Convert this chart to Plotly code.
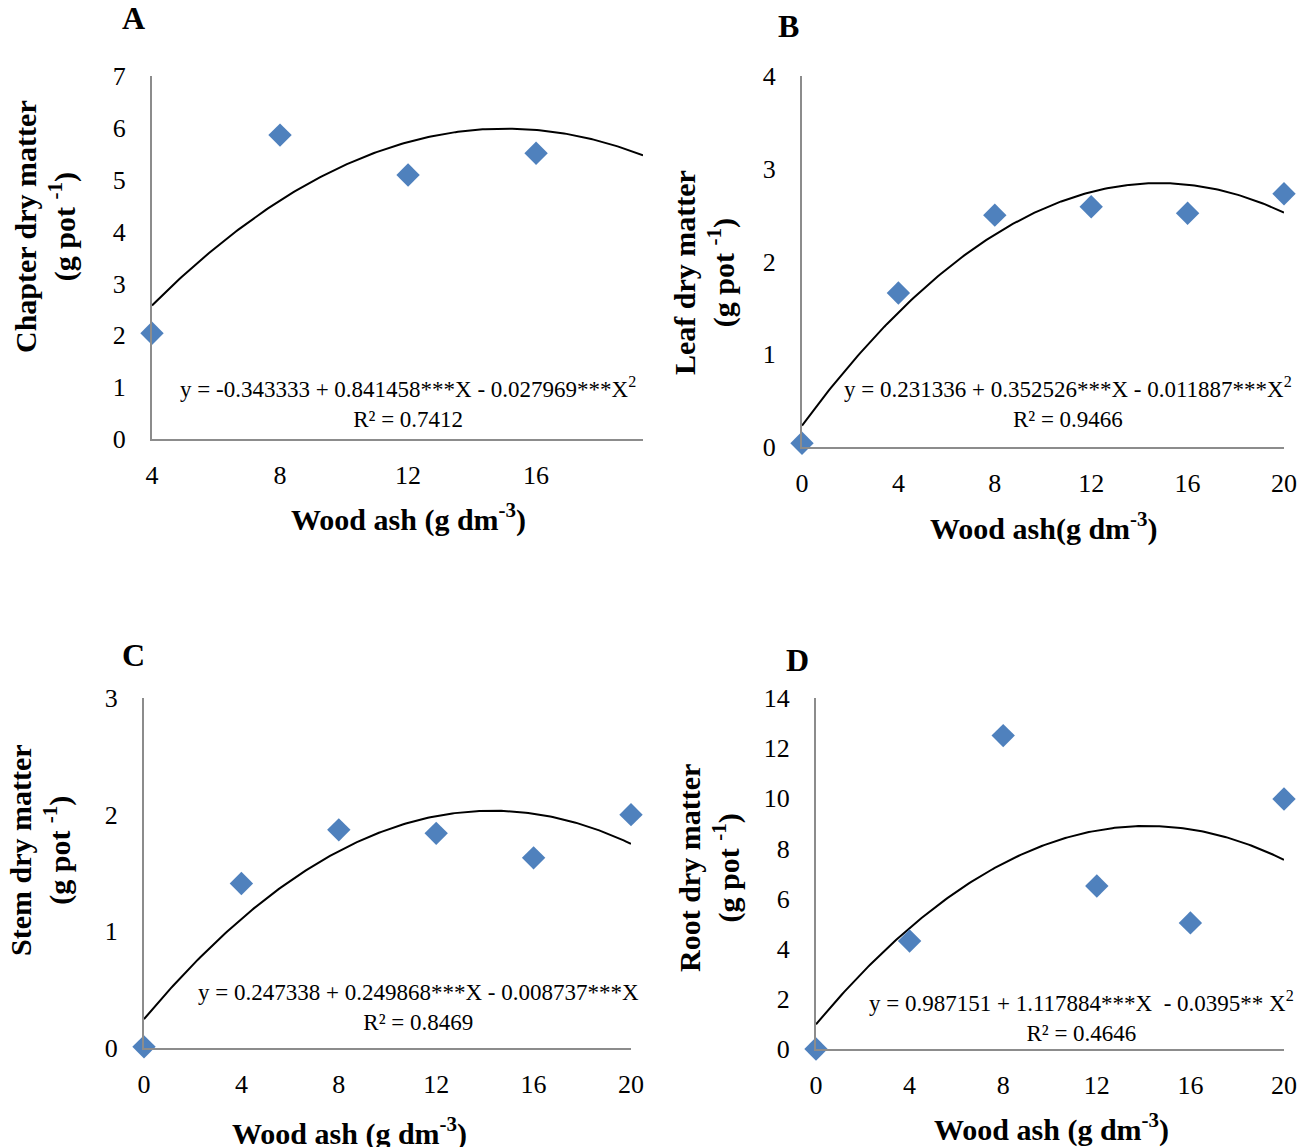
import numpy as np
import plotly.graph_objects as go

W, H = 1314, 1147
OFF = 8  # page body margin of the browser

# ---------------- data ----------------
x_A = [4, 8, 12, 16]
y_A = [2.04, 5.86, 5.09, 5.51]
coef_A = [-0.343333, 0.841458, -0.027969]

x_B = [0, 4, 8, 12, 16, 20]
y_B = [0.04, 1.66, 2.50, 2.59, 2.52, 2.73]
coef_B = [0.231336, 0.352526, -0.011887]

x_C = [0, 4, 8, 12, 16, 20]
y_C = [0.01, 1.41, 1.87, 1.84, 1.63, 2.00]
coef_C = [0.247338, 0.249868, -0.008737]

x_D = [0, 4, 8, 12, 16, 20]
y_D = [0.0, 4.31, 12.5, 6.5, 5.03, 9.97]
coef_D = [0.987151, 1.117884, -0.0395]

ticks_A = [4, 8, 12, 16]
ticks_BCD = [0, 4, 8, 12, 16, 20]

eq_A = "y = -0.343333 + 0.841458***X - 0.027969***X<sup>2</sup><br>R² = 0.7412"
eq_B = "y = 0.231336 + 0.352526***X - 0.011887***X<sup>2</sup><br>R² = 0.9466"
eq_C = "y = 0.247338 + 0.249868***X - 0.008737***X<br>R² = 0.8469"
eq_D = "y = 0.987151 + 1.117884***X  - 0.0395** X<sup>2</sup><br>R² = 0.4646"

ytitle_A = "Chapter dry matter<br>(g pot <sup>-1</sup>)"
ytitle_B = "Leaf dry matter<br>(g pot <sup>-1</sup>)"
ytitle_C = "Stem dry matter<br>(g pot <sup>-1</sup>)"
ytitle_D = "Root dry matter<br>(g pot <sup>-1</sup>)"
xtitle_A = "Wood ash (g dm<sup>-3</sup>)"
xtitle_B = "Wood ash(g dm<sup>-3</sup>)"
xtitle_C = "Wood ash (g dm<sup>-3</sup>)"
xtitle_D = "Wood ash (g dm<sup>-3</sup>)"

FONT = "Liberation Serif, Times New Roman, serif"
BLUE = "#4F81BD"
AXC = "#8C8C8C"

def px(x):
    return (x - OFF) / W

def py(y):
    return (H - (y - OFF)) / H

panels = [
    dict(x=x_A, y=y_A, c=coef_A, xr=[4, 19.34], yr=[0, 7], dt=1, xt=ticks_A,
         box=(152, 643, 76, 439), eq=eq_A, eqpos=(408, 403), letter="A", lpos=(133, 18),
         yt=ytitle_A, ytpos=(45, 227), xtt=xtitle_A, xtpos=(408, 517)),
    dict(x=x_B, y=y_B, c=coef_B, xr=[0, 20], yr=[0, 4], dt=1, xt=ticks_BCD,
         box=(802, 1284, 76, 447), eq=eq_B, eqpos=(1068, 403), letter="B", lpos=(788, 26),
         yt=ytitle_B, ytpos=(704, 273), xtt=xtitle_B, xtpos=(1044, 526)),
    dict(x=x_C, y=y_C, c=coef_C, xr=[0, 20], yr=[0, 3], dt=1, xt=ticks_BCD,
         box=(144, 631, 698, 1048), eq=eq_C, eqpos=(418, 1007), letter="C", lpos=(133, 655),
         yt=ytitle_C, ytpos=(40, 850), xtt=xtitle_C, xtpos=(349, 1131)),
    dict(x=x_D, y=y_D, c=coef_D, xr=[0, 20], yr=[0, 14], dt=2, xt=ticks_BCD,
         box=(816, 1284, 698, 1049), eq=eq_D, eqpos=(1081, 1016), letter="D", lpos=(797, 660),
         yt=ytitle_D, ytpos=(710, 868), xtt=xtitle_D, xtpos=(1051, 1127)),
]

fig = go.Figure()
annotations = []
layout = {}

for i, p in enumerate(panels, start=1):
    sfx = "" if i == 1 else str(i)
    xa, ya = "x" + sfx, "y" + sfx
    l, r, t, b = p["box"]
    xs = np.linspace(p["xr"][0], p["xr"][1], 200)
    c0, c1, c2 = p["c"]
    ys = c0 + c1 * xs + c2 * xs ** 2
    fig.add_trace(go.Scatter(x=xs, y=ys, mode="lines", line=dict(color="black", width=2),
                             xaxis=xa, yaxis=ya, showlegend=False, hoverinfo="skip",
                             cliponaxis=False))
    fig.add_trace(go.Scatter(x=p["x"], y=p["y"], mode="markers",
                             marker=dict(symbol="diamond", size=18, color=BLUE),
                             xaxis=xa, yaxis=ya, showlegend=False, cliponaxis=False))
    layout["xaxis" + sfx] = dict(
        domain=[px(l), px(r)], range=p["xr"], anchor=ya, tickvals=p["xt"],
        showgrid=False, zeroline=False, showline=True, linecolor=AXC, linewidth=2,
        ticks="", ticklabelstandoff=12, automargin=False,
        tickfont=dict(family=FONT, size=26, color="black"),
    )
    layout["yaxis" + sfx] = dict(
        domain=[py(b), py(t)], range=p["yr"], anchor=xa, dtick=p["dt"],
        showgrid=False, zeroline=False, showline=True, linecolor=AXC, linewidth=2,
        ticks="", ticklabelstandoff=19, automargin=False,
        tickfont=dict(family=FONT, size=26, color="black"),
    )
    annotations.append(dict(xref="paper", yref="paper", x=px(p["eqpos"][0]), y=py(p["eqpos"][1]),
                            text=p["eq"], showarrow=False, xanchor="center", yanchor="middle",
                            align="center", font=dict(family=FONT, size=23, color="black")))
    annotations.append(dict(xref="paper", yref="paper", x=px(p["lpos"][0]), y=py(p["lpos"][1]),
                            text="<b>%s</b>" % p["letter"], showarrow=False, xanchor="center",
                            yanchor="middle", font=dict(family=FONT, size=32, color="black")))
    annotations.append(dict(xref="paper", yref="paper", x=px(p["ytpos"][0]), y=py(p["ytpos"][1]),
                            text="<b>%s</b>" % p["yt"], showarrow=False, textangle=-90,
                            xanchor="center", yanchor="middle", align="center",
                            font=dict(family=FONT, size=30, color="black")))
    annotations.append(dict(xref="paper", yref="paper", x=px(p["xtpos"][0]), y=py(p["xtpos"][1]),
                            text="<b>%s</b>" % p["xtt"], showarrow=False,
                            xanchor="center", yanchor="middle",
                            font=dict(family=FONT, size=30, color="black")))

fig.update_layout(
    width=W, height=H, margin=dict(l=0, r=0, t=0, b=0, autoexpand=False),
    paper_bgcolor="white", plot_bgcolor="white",
    annotations=annotations, **layout,
)

fig.write_html("out.html")
